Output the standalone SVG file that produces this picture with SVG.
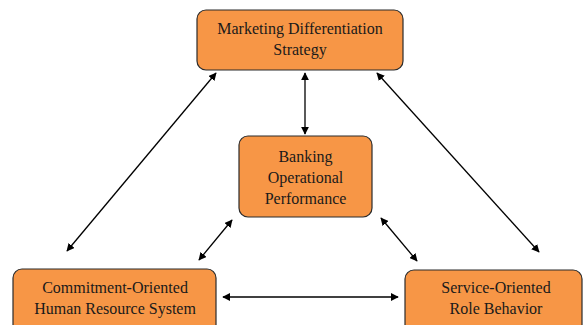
<svg xmlns="http://www.w3.org/2000/svg" width="586" height="325" viewBox="0 0 586 325">
<defs>
<style>
.box{fill:#F79646;stroke:#2b2b2b;stroke-width:1.2}
.t{font-family:"Liberation Serif","Times New Roman",serif;font-size:16px;fill:#1a1a1a;text-anchor:middle}
.c{stroke:#000;stroke-width:1.3;fill:none;marker-start:url(#ah);marker-end:url(#ah)}
</style>
<marker id="ah" viewBox="0 0 10 10" refX="9" refY="5" markerWidth="8" markerHeight="8" markerUnits="userSpaceOnUse" orient="auto-start-reverse">
<path d="M0,0 L10,5 L0,10 z" fill="#000"/>
</marker>
</defs>
<rect width="586" height="325" fill="#fff"/>
<g id="connectors">
<line class="c" x1="216" y1="73" x2="67" y2="251"/>
<line class="c" x1="377" y1="73" x2="539" y2="252"/>
<line class="c" x1="305" y1="73" x2="305" y2="134"/>
<line class="c" x1="232" y1="220" x2="199" y2="260"/>
<line class="c" x1="381" y1="218" x2="417" y2="261"/>
<line class="c" x1="223" y1="297" x2="398" y2="297"/>
</g>
<g id="marketing">
<rect class="box" x="197" y="10" width="206" height="60" rx="9"/>
<text class="t" x="300" y="34">Marketing Differentiation</text>
<text class="t" x="300" y="55">Strategy</text>
</g>
<g id="banking">
<rect class="box" x="239" y="136" width="133" height="81" rx="9"/>
<text class="t" x="305.5" y="162">Banking</text>
<text class="t" x="305.5" y="183">Operational</text>
<text class="t" x="305.5" y="204">Performance</text>
</g>
<g id="hrs">
<rect class="box" x="13" y="269" width="203" height="66" rx="9"/>
<text class="t" x="115" y="293">Commitment-Oriented</text>
<text class="t" x="115" y="314">Human Resource System</text>
</g>
<g id="service">
<rect class="box" x="405" y="270" width="177" height="66" rx="9"/>
<text class="t" x="496" y="293">Service-Oriented</text>
<text class="t" x="496" y="314">Role Behavior</text>
</g>
</svg>
